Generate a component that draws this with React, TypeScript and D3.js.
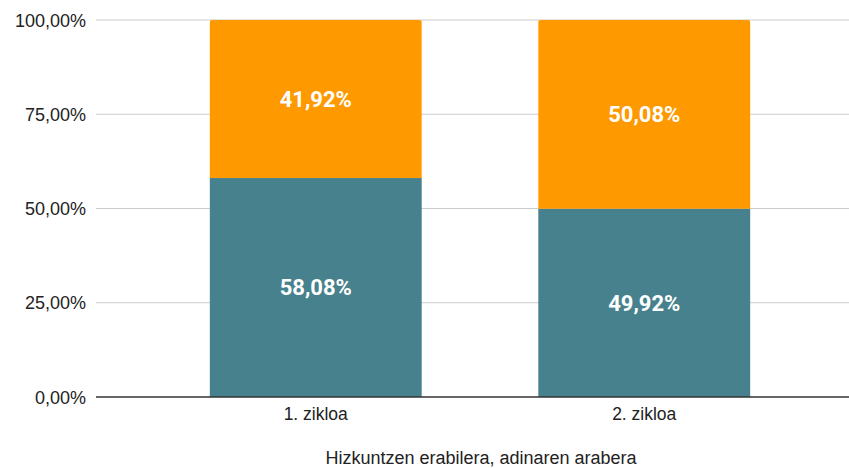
import React from "react";
import * as d3 from "d3";

const categories = ["1. zikloa", "2. zikloa"];
const seriesBottom = [58.08, 49.92];
const seriesTop = [41.92, 50.08];
const yTicks = [0, 25, 50, 75, 100];
const xTitle = "Hizkuntzen erabilera, adinaren arabera";

const W = 849;
const H = 468;
const fmt = (v: number) => v.toFixed(2).replace(".", ",") + "%";

export default function App() {
  const x = d3.scaleBand<string>().domain(categories).range([96, 864]).paddingInner(0.355).paddingOuter(0.3465);
  const y = d3.scaleLinear().domain([0, 100]).range([397, 20]);
  const r = 2;
  const topPath = (x0: number, y0: number, w: number, h: number) =>
    `M${x0},${y0 + h}V${y0 + r}Q${x0},${y0} ${x0 + r},${y0}H${x0 + w - r}Q${x0 + w},${y0} ${x0 + w},${y0 + r}V${y0 + h}Z`;
  return (
    <svg width={W} height={H} style={{ position: "absolute", left: 0, top: 0, background: "#fff" }}>
      {yTicks.slice(1).map((t) => (
        <line key={t} x1={96} x2={W} y1={y(t)} y2={y(t)} stroke="#cccccc" strokeWidth={1} />
      ))}
      {yTicks.map((t) => (
        <text key={"l" + t} x={86} y={y(t) + 6.5} textAnchor="end" fontFamily="'Liberation Sans', Arial, sans-serif" fontSize={18} fill="#222">
          {fmt(t)}
        </text>
      ))}
      {categories.map((c, i) => {
        const x0 = x(c)!;
        const bw = x.bandwidth();
        const b = seriesBottom[i];
        const tp = seriesTop[i];
        return (
          <g key={c}>
            <rect x={x0} y={y(b)} width={bw} height={y(0) - y(b)} fill="#47818e" />
            <path d={topPath(x0, y(b + tp), bw, y(b) - y(b + tp))} fill="#ff9900" />
            <text x={x0 + bw / 2} y={(y(0) + y(b)) / 2 + 7.8} textAnchor="middle" fontFamily="Roboto, sans-serif" fontWeight="bold" fontSize={22} fill="#fff">
              {fmt(b)}
            </text>
            <text x={x0 + bw / 2} y={(y(b) + y(b + tp)) / 2 + 7.8} textAnchor="middle" fontFamily="Roboto, sans-serif" fontWeight="bold" fontSize={22} fill="#fff">
              {fmt(tp)}
            </text>
            <text x={x0 + bw / 2} y={420} textAnchor="middle" fontFamily="'Liberation Sans', Arial, sans-serif" fontSize={17.5} fill="#222">
              {c}
            </text>
          </g>
        );
      })}
      <line x1={96} x2={W} y1={y(0)} y2={y(0)} stroke="#333" strokeWidth={1.5} />
      <text x={481} y={464} textAnchor="middle" fontFamily="'Liberation Sans', Arial, sans-serif" fontSize={18} fill="#222">
        {xTitle}
      </text>
    </svg>
  );
}
